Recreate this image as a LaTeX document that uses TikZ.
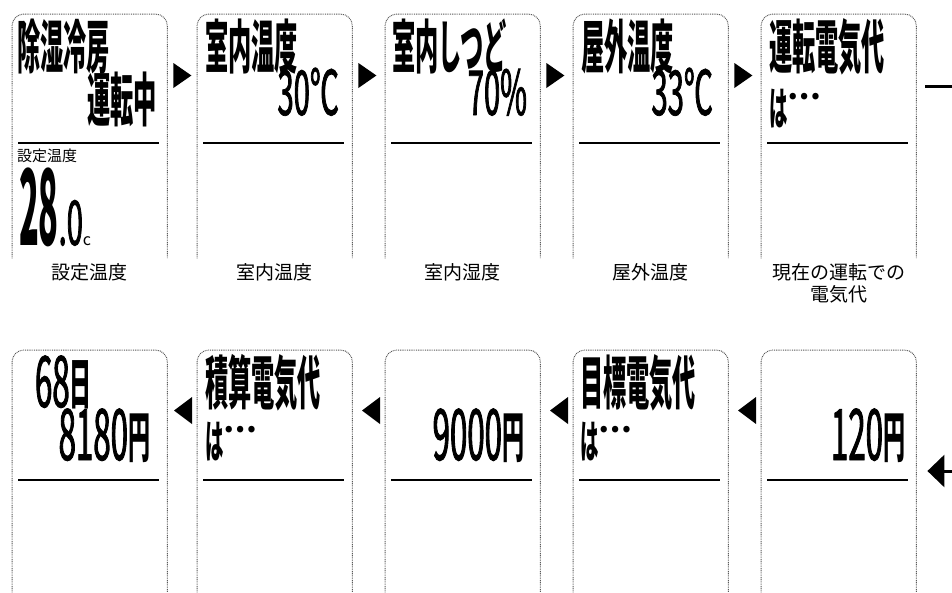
\documentclass[tikz,border=0pt]{standalone}
\usepackage{fontspec}
\usetikzlibrary{calc,arrows.meta}
\newfontfamily\lcdk{Noto Sans CJK JP}[FakeStretch=0.40]
\newfontfamily\lcdn{Noto Sans CJK JP}[FakeStretch=0.47,FakeBold=1.2]
\newfontfamily\lcdm{Noto Sans CJK JP}[FakeStretch=0.44,FakeBold=1.2]
\newfontfamily\lcdx{Noto Sans CJK JP}[FakeStretch=0.31]
\newfontfamily\jp{Noto Sans CJK JP}
\newcommand\LK{\lcdk\bfseries\fontsize{58}{58}\selectfont}
\newcommand\LKs{\lcdk\bfseries\fontsize{55}{55}\selectfont}
\newcommand\LNa{\lcdn\fontsize{62}{62}\selectfont}
\newcommand\LNb{\lcdm\fontsize{71}{71}\selectfont}
\newcommand\HA{{\lcdk\bfseries\fontsize{46}{46}\selectfont は}{\jp\bfseries\fontsize{30}{30}\selectfont\raisebox{26pt}{…}}}
\newcommand\EN{\raisebox{3pt}{\LKs 円}}
\newcommand\NI{\raisebox{3pt}{\LKs 日}}
\begin{document}
\begin{tikzpicture}[x=1pt,y=-1pt,
  boxn/.style={rectangle, draw=none, inner sep=0pt, minimum width=155pt, minimum height=244pt},
  bord/.style={draw=black!65, line width=1pt, dash pattern=on 0.9pt off 0.9pt, rounded corners=12pt},
  sep/.style={line width=2pt},
  tri/.style={fill=black},
  txt/.style={inner sep=0pt, outer sep=0pt},
  kj/.style={txt, text height=46pt, text depth=4pt},
  dg/.style={txt, text height=40pt, text depth=0pt},
  lab/.style={font=\jp\fontsize{19}{22}\selectfont, align=center, inner sep=0pt, anchor=north}]
\useasboundingbox (0,0) rectangle (952,592);
% boxes
\foreach \i/\x in {1/12,2/197,3/385,4/573,5/761} {
  \node[boxn, anchor=north west] (b\i) at (\x,14) {};
  \node[boxn, minimum height=242pt, anchor=north west] (c\i) at (\x,350) {};
  \draw[bord] (b\i.south west) -- (b\i.north west) -- (b\i.north east) -- (b\i.south east);
  \draw[bord] (c\i.south west) -- (c\i.north west) -- (c\i.north east) -- (c\i.south east);
  \draw[sep] ($(b\i.north west)+(6,129)$) -- ($(b\i.north east)+(-8,129)$);
  \draw[sep] ($(c\i.north west)+(6,130)$) -- ($(c\i.north east)+(-8,130)$);
}
% right-pointing triangles (top row)
\foreach \i in {1,2,3,4} {
  \fill[tri] ($(b\i.north east)+(6,49)$) -- ($(b\i.north east)+(24,61.5)$) -- ($(b\i.north east)+(6,74)$) -- cycle;
}
% left-pointing triangles (bottom row)
\foreach \i/\j in {1/2,2/3,3/4,4/5} {
  \fill[tri] ($(c\j.north west)+(-5,47)$) -- ($(c\j.north west)+(-23,60.5)$) -- ($(c\j.north west)+(-5,74)$) -- cycle;
}
% connectors leaving at the right
\coordinate (o1) at (952,86);
\coordinate (o2) at (952,471);
\draw[line width=3pt] ($(b5.north east)+(9,72)$) -- (o1);
\draw[line width=3pt, -{Triangle[length=17pt,width=32pt]}] (o2) -- ($(c5.north east)+(11,121)$);
% top row texts
\node[kj, anchor=base west] (t11) at (17,68) {\LK 除湿冷房};
\node[kj, anchor=base east] (t12) at (157,121) {\LK 運転中};
\node[txt, anchor=base west] (t13) at (17,161) {\jp\fontsize{15}{15}\selectfont 設定温度};
\node[txt, text height=66pt, text depth=0pt, anchor=base west] (t14) at (19,245) {{\lcdx\bfseries\fontsize{105}{105}\selectfont 28}{\LNa .0}{\jp\fontsize{16}{16}\selectfont c}};
\node[kj, anchor=base west] (t21) at (205,68) {\LK 室内温度};
\node[dg, anchor=base east] (t22) at (339,115) {\LNa 30℃};
\node[kj, anchor=base west] (t31) at (392,68) {\LK 室内しつど};
\node[dg, anchor=base east] (t32) at (527,115) {\LNa 70\%};
\node[kj, anchor=base west] (t41) at (581,68) {\LK 屋外温度};
\node[dg, anchor=base east] (t42) at (713,115) {\LNa 33℃};
\node[kj, anchor=base west] (t51) at (769,68) {\LK 運転電気代};
\node[txt, text height=32pt, text depth=2pt, anchor=base west] (t52) at (769,125) {\HA};
% labels
\node[lab] (l1) at ($(b1.south)+(0,5)$) {設定温度};
\node[lab] (l2) at ($(b2.south)+(0,5)$) {室内温度};
\node[lab] (l3) at ($(b3.south)+(0,5)$) {室内湿度};
\node[lab] (l4) at ($(b4.south)+(0,5)$) {屋外温度};
\node[lab] (l5) at ($(b5.south)+(0,5)$) {現在の運転での\\電気代};
% bottom row texts
\node[dg, anchor=base west] (s11) at (35,407) {{\LNb 68}\NI};
\node[dg, anchor=base east] (s12) at (150,460) {{\LNb 8180}\EN};
\node[kj, anchor=base west] (s21) at (205,404) {\LK 積算電気代};
\node[txt, text height=32pt, text depth=2pt, anchor=base west] (s22) at (205,458) {\HA};
\node[dg, anchor=base east] (s32) at (524,460) {{\LNb 9000}\EN};
\node[kj, anchor=base west] (s41) at (580,404) {\LK 目標電気代};
\node[txt, text height=32pt, text depth=2pt, anchor=base west] (s42) at (580,458) {\HA};
\node[dg, anchor=base east] (s52) at (905,460) {{\LNb 120}\EN};
\end{tikzpicture}
\end{document}
